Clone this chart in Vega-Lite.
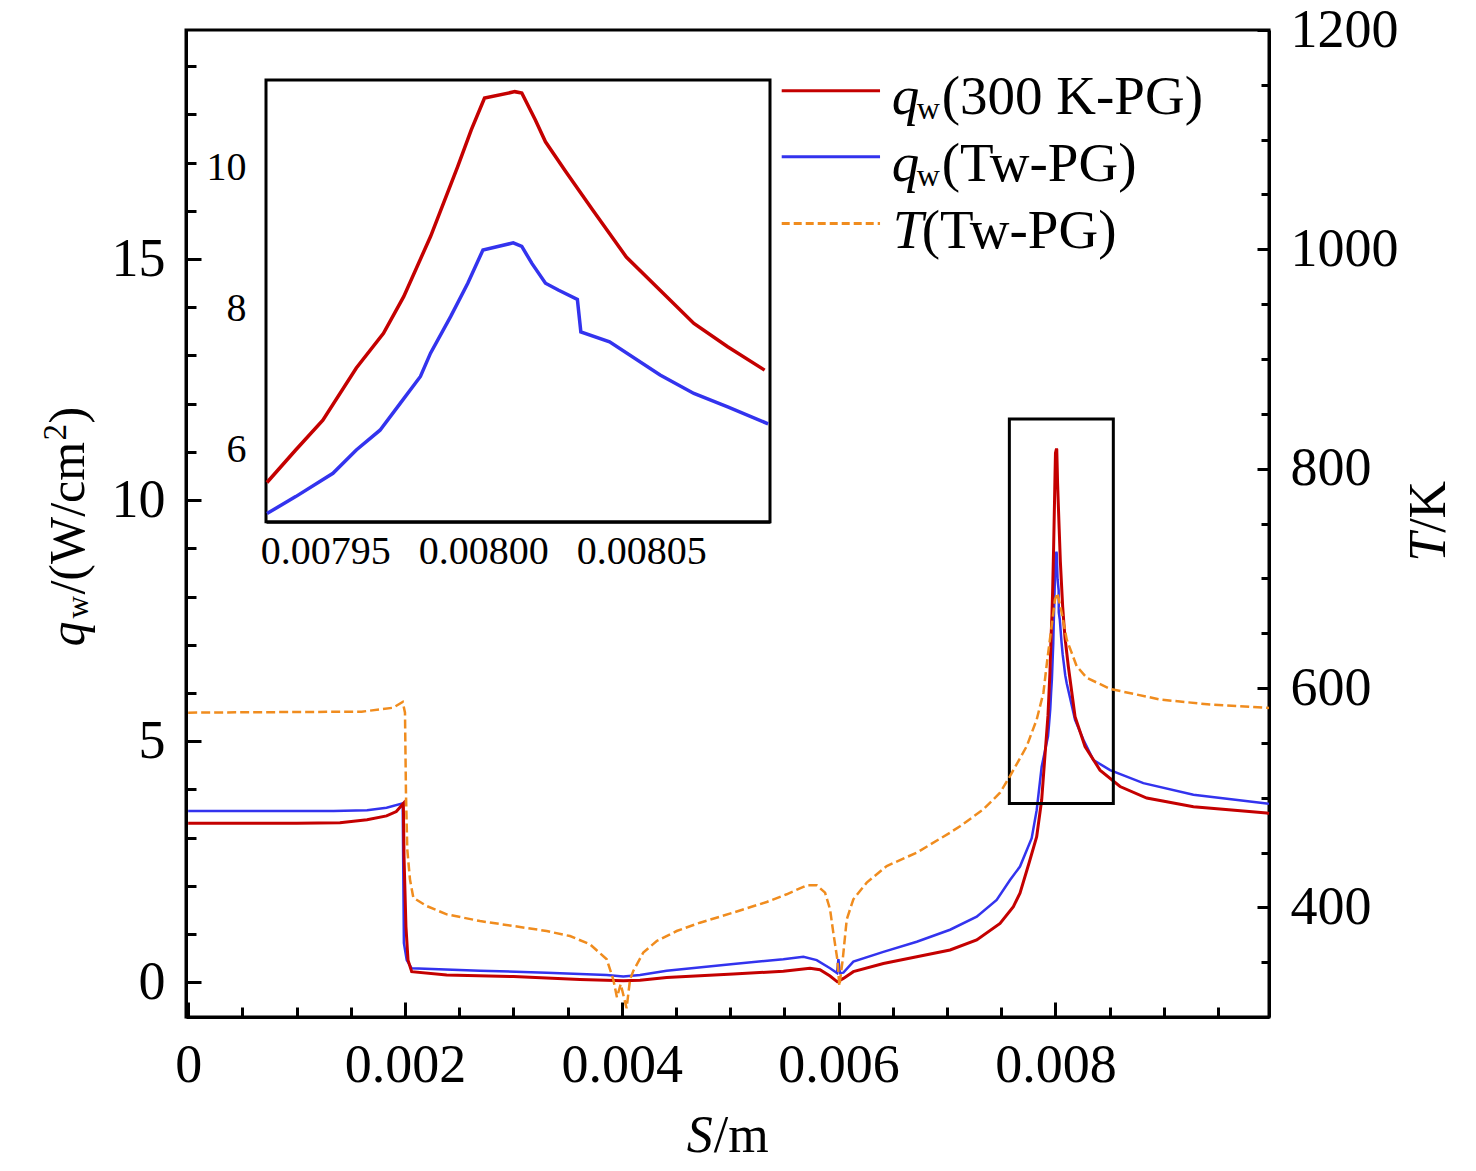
{
  "$schema": "https://vega.github.io/schema/vega-lite/v6.json",
  "width": 1083,
  "height": 987,
  "autosize": {"type": "none"},
  "padding": {"left": 186, "top": 30, "right": 207, "bottom": 154},
  "background": "white",
  "config": {
    "view": {"stroke": "black", "strokeWidth": 3},
    "axis": {
      "grid": false, "domainColor": "black", "domainWidth": 3, "tickColor": "black", "tickWidth": 3,
      "labelColor": "black", "labelFont": "Liberation Serif", "labelFontSize": 54,
      "labelFlush": false, "labelOverlap": false, "labelBound": false, "zindex": 1
    },
    "text": {"font": "Liberation Serif", "color": "black"}
  },
  "datasets": {
    "red": [
      {"s": 0, "q": 3.30}, {"s": 0.0005, "q": 3.30}, {"s": 0.001, "q": 3.30}, {"s": 0.0014, "q": 3.31},
      {"s": 0.00165, "q": 3.37}, {"s": 0.00183, "q": 3.45}, {"s": 0.00192, "q": 3.54}, {"s": 0.001985, "q": 3.71},
      {"s": 0.001991, "q": 2.61}, {"s": 0.002009, "q": 1.15}, {"s": 0.002028, "q": 0.46}, {"s": 0.002062, "q": 0.22},
      {"s": 0.002385, "q": 0.15}, {"s": 0.003, "q": 0.12}, {"s": 0.003614, "q": 0.06}, {"s": 0.004014, "q": 0.03},
      {"s": 0.004168, "q": 0.04}, {"s": 0.004414, "q": 0.10}, {"s": 0.005029, "q": 0.17}, {"s": 0.00549, "q": 0.23},
      {"s": 0.005736, "q": 0.29}, {"s": 0.005828, "q": 0.26}, {"s": 0.005921, "q": 0.13}, {"s": 0.005988, "q": 0.01},
      {"s": 0.006044, "q": 0.08}, {"s": 0.006136, "q": 0.22}, {"s": 0.006413, "q": 0.39}, {"s": 0.006721, "q": 0.53},
      {"s": 0.007028, "q": 0.67}, {"s": 0.007274, "q": 0.88}, {"s": 0.007489, "q": 1.22}, {"s": 0.007612, "q": 1.57},
      {"s": 0.007673, "q": 1.85}, {"s": 0.00776, "q": 2.5}, {"s": 0.007827, "q": 3.02}, {"s": 0.007873, "q": 3.78},
      {"s": 0.0079, "q": 4.6},
      {"s": 0.0079315, "q": 5.54}, {"s": 0.0079406, "q": 6.0}, {"s": 0.0079492, "q": 6.42}, {"s": 0.0079598, "q": 7.16},
      {"s": 0.0079684, "q": 7.65}, {"s": 0.0079748, "q": 8.17}, {"s": 0.0079833, "q": 9.02}, {"s": 0.0079919, "q": 10.01},
      {"s": 0.0079962, "q": 10.53}, {"s": 0.0080004, "q": 10.98}, {"s": 0.00801, "q": 11.07}, {"s": 0.0080122, "q": 11.05},
      {"s": 0.0080165, "q": 10.67}, {"s": 0.0080197, "q": 10.36}, {"s": 0.0080261, "q": 9.94}, {"s": 0.0080346, "q": 9.40},
      {"s": 0.0080453, "q": 8.73}, {"s": 0.008056, "q": 8.26}, {"s": 0.0080667, "q": 7.79}, {"s": 0.0080774, "q": 7.46},
      {"s": 0.0080891, "q": 7.13},
      {"s": 0.008119, "q": 6.55}, {"s": 0.008181, "q": 5.51}, {"s": 0.008273, "q": 4.89}, {"s": 0.008411, "q": 4.40},
      {"s": 0.008596, "q": 4.06}, {"s": 0.008842, "q": 3.82}, {"s": 0.009273, "q": 3.64}, {"s": 0.009949, "q": 3.51},
      {"s": 0.00997, "q": 3.50}
    ],
    "blue": [
      {"s": 0, "q": 3.55}, {"s": 0.0005, "q": 3.55}, {"s": 0.001, "q": 3.55}, {"s": 0.00134, "q": 3.55},
      {"s": 0.00165, "q": 3.57}, {"s": 0.00183, "q": 3.62}, {"s": 0.001979, "q": 3.71}, {"s": 0.00199, "q": 0.81},
      {"s": 0.002016, "q": 0.46}, {"s": 0.002062, "q": 0.29}, {"s": 0.002692, "q": 0.24}, {"s": 0.003307, "q": 0.20},
      {"s": 0.003861, "q": 0.15}, {"s": 0.004014, "q": 0.12}, {"s": 0.004168, "q": 0.15}, {"s": 0.004414, "q": 0.24},
      {"s": 0.005029, "q": 0.38}, {"s": 0.00549, "q": 0.48}, {"s": 0.005675, "q": 0.53}, {"s": 0.005798, "q": 0.46},
      {"s": 0.005921, "q": 0.29}, {"s": 0.005985, "q": 0.19}, {"s": 0.005998, "q": 0.48}, {"s": 0.006012, "q": 0.19},
      {"s": 0.006044, "q": 0.20}, {"s": 0.006136, "q": 0.43}, {"s": 0.006413, "q": 0.63}, {"s": 0.006721, "q": 0.84},
      {"s": 0.007028, "q": 1.09}, {"s": 0.007274, "q": 1.36}, {"s": 0.007458, "q": 1.71}, {"s": 0.007581, "q": 2.12},
      {"s": 0.007673, "q": 2.40}, {"s": 0.007781, "q": 2.99}, {"s": 0.007827, "q": 3.57}, {"s": 0.007873, "q": 4.47},
      {"s": 0.0079315, "q": 5.10}, {"s": 0.0079406, "q": 5.34}, {"s": 0.0079524, "q": 5.67}, {"s": 0.0079598, "q": 6.0},
      {"s": 0.0079673, "q": 6.28}, {"s": 0.0079737, "q": 6.66}, {"s": 0.0079801, "q": 7.04}, {"s": 0.0079833, "q": 7.37},
      {"s": 0.0079897, "q": 7.89}, {"s": 0.0079951, "q": 8.36}, {"s": 0.0079999, "q": 8.83}, {"s": 0.0080095, "q": 8.93},
      {"s": 0.0080122, "q": 8.88}, {"s": 0.0080154, "q": 8.64}, {"s": 0.0080197, "q": 8.36}, {"s": 0.0080239, "q": 8.26},
      {"s": 0.0080298, "q": 8.13}, {"s": 0.0080309, "q": 7.67}, {"s": 0.00804, "q": 7.53}, {"s": 0.008056, "q": 7.06},
      {"s": 0.0080667, "q": 6.80}, {"s": 0.0080774, "q": 6.61}, {"s": 0.0080902, "q": 6.37},
      {"s": 0.008104, "q": 6.20}, {"s": 0.008181, "q": 5.44}, {"s": 0.008258, "q": 5.03}, {"s": 0.00835, "q": 4.61},
      {"s": 0.008504, "q": 4.40}, {"s": 0.008811, "q": 4.13}, {"s": 0.009273, "q": 3.89}, {"s": 0.009949, "q": 3.71},
      {"s": 0.00997, "q": 3.70}
    ],
    "orange": [
      {"s": 0, "T": 577.5}, {"s": 0.0008, "T": 578}, {"s": 0.0016, "T": 578.4}, {"s": 0.00177, "T": 580.5},
      {"s": 0.00189, "T": 582}, {"s": 0.001979, "T": 587.2}, {"s": 0.002, "T": 577.5}, {"s": 0.002009, "T": 504.6},
      {"s": 0.002021, "T": 452.9}, {"s": 0.002046, "T": 425.5}, {"s": 0.002077, "T": 408.8}, {"s": 0.0022, "T": 401.2},
      {"s": 0.002385, "T": 393.6}, {"s": 0.002692, "T": 387.5}, {"s": 0.003, "T": 383}, {"s": 0.003307, "T": 378.4},
      {"s": 0.003522, "T": 373.8}, {"s": 0.003707, "T": 366.3}, {"s": 0.003861, "T": 352.6}, {"s": 0.003922, "T": 334},
      {"s": 0.003955, "T": 318}, {"s": 0.00399, "T": 330}, {"s": 0.004044, "T": 308}, {"s": 0.004076, "T": 334},
      {"s": 0.004106, "T": 342}, {"s": 0.004198, "T": 358.7}, {"s": 0.004322, "T": 369.3}, {"s": 0.004506, "T": 378.4},
      {"s": 0.004721, "T": 386}, {"s": 0.005029, "T": 395.2}, {"s": 0.005337, "T": 404.9}, {"s": 0.005521, "T": 411.9},
      {"s": 0.005706, "T": 420.1}, {"s": 0.005798, "T": 420.1}, {"s": 0.005875, "T": 413.4}, {"s": 0.005921, "T": 398.2},
      {"s": 0.005951, "T": 376.9}, {"s": 0.005988, "T": 352.6}, {"s": 0.006007, "T": 328.3}, {"s": 0.006038, "T": 352.6},
      {"s": 0.006075, "T": 389}, {"s": 0.006136, "T": 407.3}, {"s": 0.006259, "T": 422.5}, {"s": 0.006444, "T": 437.7},
      {"s": 0.006721, "T": 449.9}, {"s": 0.007028, "T": 468.1}, {"s": 0.00712, "T": 474}, {"s": 0.007335, "T": 489.3},
      {"s": 0.007489, "T": 504.5}, {"s": 0.007581, "T": 519.6}, {"s": 0.007735, "T": 546.9}, {"s": 0.007827, "T": 571.2},
      {"s": 0.007889, "T": 595.5}, {"s": 0.007925, "T": 625.9}, {"s": 0.007957, "T": 650.3}, {"s": 0.007996, "T": 680.6},
      {"s": 0.008018, "T": 686.7}, {"s": 0.008058, "T": 668.5}, {"s": 0.008104, "T": 644.2}, {"s": 0.008196, "T": 619.9},
      {"s": 0.008289, "T": 609.3}, {"s": 0.008504, "T": 599.2}, {"s": 0.008965, "T": 589.5}, {"s": 0.009426, "T": 584.9},
      {"s": 0.009949, "T": 581.9}, {"s": 0.00997, "T": 581.8}
    ]
  },
  "layer": [
    {
      "resolve": {"axis": {"x": "independent", "y": "independent"}},
      "layer": [
        {
          "data": {"name": "blue"},
          "mark": {"type": "line", "color": "#3333ee", "strokeWidth": 2.5},
          "encoding": {
            "x": {"field": "s", "type": "quantitative", "scale": {"domain": [-0.00002, 0.00997], "nice": false, "zero": false},
                  "axis": {"orient": "bottom", "values": [0.0005, 0.001, 0.0015, 0.0025, 0.003, 0.0035, 0.0045, 0.005, 0.0055, 0.0065, 0.007, 0.0075, 0.0085, 0.009, 0.0095], "tickSize": -10, "labels": false, "domain": false, "title": null}},
            "y": {"field": "q", "type": "quantitative", "scale": {"domain": [-0.72, 19.75], "nice": false, "zero": false},
                  "axis": {"orient": "left", "values": [1, 2, 3, 4, 6, 7, 8, 9, 11, 12, 13, 14, 16, 17, 18, 19], "tickSize": -10, "labels": false, "domain": false, "title": null}}
          }
        },
        {
          "data": {"name": "red"},
          "mark": {"type": "line", "color": "#c40000", "strokeWidth": 3},
          "encoding": {
            "x": {"field": "s", "type": "quantitative", "scale": {"domain": [-0.00002, 0.00997], "nice": false, "zero": false},
                  "axis": {"orient": "bottom", "values": [0, 0.002, 0.004, 0.006, 0.008], "format": ".3~f", "tickSize": -15, "labelPadding": 79.7, "labelBaseline": "alphabetic", "title": null}},
            "y": {"field": "q", "type": "quantitative", "scale": {"domain": [-0.72, 19.75], "nice": false, "zero": false},
                  "axis": {"orient": "left", "values": [0, 5, 10, 15], "format": "d", "tickSize": -15, "labelPadding": 36, "title": null}}
          }
        },
        {
          "data": {"values": [{}]},
          "mark": {"type": "rect", "fillOpacity": 0, "stroke": "black", "strokeWidth": 3},
          "encoding": {
            "x": {"datum": 0.007575, "type": "quantitative", "scale": {"domain": [-0.00002, 0.00997], "nice": false, "zero": false}, "axis": null},
            "x2": {"datum": 0.008534},
            "y": {"datum": 11.68, "type": "quantitative", "scale": {"domain": [-0.72, 19.75], "nice": false, "zero": false}, "axis": null},
            "y2": {"datum": 3.71}
          }
        },
        {
          "data": {"values": [{}]},
          "mark": {"type": "rule", "color": "#c40000", "strokeWidth": 3},
          "encoding": {
            "x": {"datum": 0.005475, "type": "quantitative", "scale": {"domain": [-0.00002, 0.00997], "nice": false, "zero": false}, "axis": null},
            "x2": {"datum": 0.006382},
            "y": {"datum": 18.49, "type": "quantitative", "scale": {"domain": [-0.72, 19.75], "nice": false, "zero": false}, "axis": null}
          }
        },
        {
          "data": {"values": [{}]},
          "mark": {"type": "rule", "color": "#3333ee", "strokeWidth": 3},
          "encoding": {
            "x": {"datum": 0.005475, "type": "quantitative", "scale": {"domain": [-0.00002, 0.00997], "nice": false, "zero": false}, "axis": null},
            "x2": {"datum": 0.006382},
            "y": {"datum": 17.12, "type": "quantitative", "scale": {"domain": [-0.72, 19.75], "nice": false, "zero": false}, "axis": null}
          }
        },
        {
          "data": {"values": [{}]},
          "mark": {"type": "text", "text": "q", "fontSize": 55, "fontStyle": "italic", "align": "left", "baseline": "alphabetic"},
          "encoding": {
            "x": {"datum": 0.00649, "type": "quantitative", "scale": {"domain": [-0.00002, 0.00997], "nice": false, "zero": false}, "axis": null},
            "y": {"datum": 18.0, "type": "quantitative", "scale": {"domain": [-0.72, 19.75], "nice": false, "zero": false}, "axis": null}
          }
        },
        {
          "data": {"values": [{}]},
          "mark": {"type": "text", "text": "w", "fontSize": 32, "align": "left", "baseline": "alphabetic", "dx": 25, "dy": 5},
          "encoding": {
            "x": {"datum": 0.00649, "type": "quantitative", "scale": {"domain": [-0.00002, 0.00997], "nice": false, "zero": false}, "axis": null},
            "y": {"datum": 18.0, "type": "quantitative", "scale": {"domain": [-0.72, 19.75], "nice": false, "zero": false}, "axis": null}
          }
        },
        {
          "data": {"values": [{}]},
          "mark": {"type": "text", "text": "(300 K-PG)", "fontSize": 55, "align": "left", "baseline": "alphabetic", "dx": 50},
          "encoding": {
            "x": {"datum": 0.00649, "type": "quantitative", "scale": {"domain": [-0.00002, 0.00997], "nice": false, "zero": false}, "axis": null},
            "y": {"datum": 18.0, "type": "quantitative", "scale": {"domain": [-0.72, 19.75], "nice": false, "zero": false}, "axis": null}
          }
        },
        {
          "data": {"values": [{}]},
          "mark": {"type": "text", "text": "q", "fontSize": 55, "fontStyle": "italic", "align": "left", "baseline": "alphabetic"},
          "encoding": {
            "x": {"datum": 0.00649, "type": "quantitative", "scale": {"domain": [-0.00002, 0.00997], "nice": false, "zero": false}, "axis": null},
            "y": {"datum": 16.61, "type": "quantitative", "scale": {"domain": [-0.72, 19.75], "nice": false, "zero": false}, "axis": null}
          }
        },
        {
          "data": {"values": [{}]},
          "mark": {"type": "text", "text": "w", "fontSize": 32, "align": "left", "baseline": "alphabetic", "dx": 25, "dy": 5},
          "encoding": {
            "x": {"datum": 0.00649, "type": "quantitative", "scale": {"domain": [-0.00002, 0.00997], "nice": false, "zero": false}, "axis": null},
            "y": {"datum": 16.61, "type": "quantitative", "scale": {"domain": [-0.72, 19.75], "nice": false, "zero": false}, "axis": null}
          }
        },
        {
          "data": {"values": [{}]},
          "mark": {"type": "text", "text": "(Tw-PG)", "fontSize": 55, "align": "left", "baseline": "alphabetic", "dx": 50},
          "encoding": {
            "x": {"datum": 0.00649, "type": "quantitative", "scale": {"domain": [-0.00002, 0.00997], "nice": false, "zero": false}, "axis": null},
            "y": {"datum": 16.61, "type": "quantitative", "scale": {"domain": [-0.72, 19.75], "nice": false, "zero": false}, "axis": null}
          }
        },
        {
          "data": {"values": [{}]},
          "mark": {"type": "text", "text": "T", "fontSize": 55, "fontStyle": "italic", "align": "left", "baseline": "alphabetic", "dx": 1},
          "encoding": {
            "x": {"datum": 0.00649, "type": "quantitative", "scale": {"domain": [-0.00002, 0.00997], "nice": false, "zero": false}, "axis": null},
            "y": {"datum": 15.23, "type": "quantitative", "scale": {"domain": [-0.72, 19.75], "nice": false, "zero": false}, "axis": null}
          }
        },
        {
          "data": {"values": [{}]},
          "mark": {"type": "text", "text": "(Tw-PG)", "fontSize": 55, "align": "left", "baseline": "alphabetic", "dx": 30},
          "encoding": {
            "x": {"datum": 0.00649, "type": "quantitative", "scale": {"domain": [-0.00002, 0.00997], "nice": false, "zero": false}, "axis": null},
            "y": {"datum": 15.23, "type": "quantitative", "scale": {"domain": [-0.72, 19.75], "nice": false, "zero": false}, "axis": null}
          }
        },
        {
          "data": {"values": [{}]},
          "mark": {"type": "text", "text": "S", "fontSize": 52, "fontStyle": "italic", "align": "left", "baseline": "alphabetic"},
          "encoding": {
            "x": {"datum": 0.004599, "type": "quantitative", "scale": {"domain": [-0.00002, 0.00997], "nice": false, "zero": false}, "axis": null},
            "y": {"datum": -3.515, "type": "quantitative", "scale": {"domain": [-0.72, 19.75], "nice": false, "zero": false}, "axis": null}
          }
        },
        {
          "data": {"values": [{}]},
          "mark": {"type": "text", "text": "/m", "fontSize": 52, "align": "left", "baseline": "alphabetic", "dx": 27},
          "encoding": {
            "x": {"datum": 0.004599, "type": "quantitative", "scale": {"domain": [-0.00002, 0.00997], "nice": false, "zero": false}, "axis": null},
            "y": {"datum": -3.515, "type": "quantitative", "scale": {"domain": [-0.72, 19.75], "nice": false, "zero": false}, "axis": null}
          }
        },
        {
          "data": {"values": [{}]},
          "mark": {"type": "text", "text": "T", "fontSize": 52, "fontStyle": "italic", "align": "left", "baseline": "alphabetic", "angle": 270},
          "encoding": {
            "x": {"datum": 0.011594, "type": "quantitative", "scale": {"domain": [-0.00002, 0.00997], "nice": false, "zero": false}, "axis": null},
            "y": {"datum": 8.72, "type": "quantitative", "scale": {"domain": [-0.72, 19.75], "nice": false, "zero": false}, "axis": null}
          }
        },
        {
          "data": {"values": [{}]},
          "mark": {"type": "text", "text": "/K", "fontSize": 52, "align": "left", "baseline": "alphabetic", "angle": 270, "dx": 29},
          "encoding": {
            "x": {"datum": 0.011594, "type": "quantitative", "scale": {"domain": [-0.00002, 0.00997], "nice": false, "zero": false}, "axis": null},
            "y": {"datum": 8.72, "type": "quantitative", "scale": {"domain": [-0.72, 19.75], "nice": false, "zero": false}, "axis": null}
          }
        },
        {
          "data": {"values": [{}]},
          "mark": {"type": "text", "text": "q", "fontSize": 50, "fontStyle": "italic", "align": "left", "baseline": "alphabetic", "angle": 270},
          "encoding": {
            "x": {"datum": -0.000961, "type": "quantitative", "scale": {"domain": [-0.00002, 0.00997], "nice": false, "zero": false}, "axis": null},
            "y": {"datum": 6.963, "type": "quantitative", "scale": {"domain": [-0.72, 19.75], "nice": false, "zero": false}, "axis": null}
          }
        },
        {
          "data": {"values": [{}]},
          "mark": {"type": "text", "text": "w", "fontSize": 31, "align": "left", "baseline": "alphabetic", "angle": 270, "dx": 28, "dy": 4},
          "encoding": {
            "x": {"datum": -0.000961, "type": "quantitative", "scale": {"domain": [-0.00002, 0.00997], "nice": false, "zero": false}, "axis": null},
            "y": {"datum": 6.963, "type": "quantitative", "scale": {"domain": [-0.72, 19.75], "nice": false, "zero": false}, "axis": null}
          }
        },
        {
          "data": {"values": [{}]},
          "mark": {"type": "text", "text": "/(W/cm", "fontSize": 50, "align": "left", "baseline": "alphabetic", "angle": 270, "dx": 52},
          "encoding": {
            "x": {"datum": -0.000961, "type": "quantitative", "scale": {"domain": [-0.00002, 0.00997], "nice": false, "zero": false}, "axis": null},
            "y": {"datum": 6.963, "type": "quantitative", "scale": {"domain": [-0.72, 19.75], "nice": false, "zero": false}, "axis": null}
          }
        },
        {
          "data": {"values": [{}]},
          "mark": {"type": "text", "text": "2", "fontSize": 33, "align": "left", "baseline": "alphabetic", "angle": 270, "dx": 206, "dy": -18},
          "encoding": {
            "x": {"datum": -0.000961, "type": "quantitative", "scale": {"domain": [-0.00002, 0.00997], "nice": false, "zero": false}, "axis": null},
            "y": {"datum": 6.963, "type": "quantitative", "scale": {"domain": [-0.72, 19.75], "nice": false, "zero": false}, "axis": null}
          }
        },
        {
          "data": {"values": [{}]},
          "mark": {"type": "text", "text": ")", "fontSize": 50, "align": "left", "baseline": "alphabetic", "angle": 270, "dx": 223},
          "encoding": {
            "x": {"datum": -0.000961, "type": "quantitative", "scale": {"domain": [-0.00002, 0.00997], "nice": false, "zero": false}, "axis": null},
            "y": {"datum": 6.963, "type": "quantitative", "scale": {"domain": [-0.72, 19.75], "nice": false, "zero": false}, "axis": null}
          }
        }
      ]
    },
    {
      "resolve": {"axis": {"x": "independent", "y": "independent"}},
      "layer": [
        {
          "data": {"name": "orange"},
          "mark": {"type": "line", "color": "#f08c1e", "strokeWidth": 2.5, "strokeDash": [9, 4]},
          "encoding": {
            "x": {"field": "s", "type": "quantitative", "scale": {"domain": [-0.00002, 0.00997], "nice": false, "zero": false}, "axis": null},
            "y": {"field": "T", "type": "quantitative", "scale": {"domain": [300, 1200], "nice": false, "zero": false},
                  "axis": {"orient": "right", "values": [400, 600, 800, 1000, 1200], "format": "d", "tickSize": -12, "labelPadding": 33, "title": null}}
          }
        },
        {
          "data": {"values": [{}]},
          "mark": {"type": "rule", "color": "#f08c1e", "strokeWidth": 3, "strokeDash": [8, 4]},
          "encoding": {
            "x": {"datum": 0.005475, "type": "quantitative", "scale": {"domain": [-0.00002, 0.00997], "nice": false, "zero": false}, "axis": null},
            "x2": {"datum": 0.006382},
            "y": {"datum": 1023.5, "type": "quantitative", "scale": {"domain": [300, 1200], "nice": false, "zero": false},
                  "axis": {"orient": "right", "values": [350, 450, 500, 550, 650, 700, 750, 850, 900, 950, 1050, 1100, 1150], "tickSize": -8, "labels": false, "domain": false, "title": null}}
          }
        }
      ]
    },
    {
      "resolve": {"axis": {"x": "independent", "y": "independent"}},
      "layer": [
        {
          "data": {"values": [{}]},
          "mark": {"type": "rect", "fill": "white", "stroke": "black", "strokeWidth": 3},
          "encoding": {
            "x": {"datum": 0.0079312, "type": "quantitative", "scale": {"domain": [0.0079312, 0.0080908], "range": [80, 584], "nice": false, "zero": false},
                  "axis": {"orient": "bottom", "offset": -495.3, "values": [0.00795, 0.008, 0.00805], "format": ".5f", "tickSize": -15, "labelPadding": 56.3, "labelBaseline": "alphabetic", "labelFontSize": 40, "title": null}},
            "x2": {"datum": 0.0080908},
            "y": {"datum": 4.985, "type": "quantitative", "scale": {"domain": [4.985, 11.235], "range": [491.7, 50], "nice": false, "zero": false},
                  "axis": {"orient": "left", "offset": -80, "values": [6, 8, 10], "format": "d", "tickSize": -16, "labelPadding": 36, "labelFontSize": 40, "title": null}},
            "y2": {"datum": 11.235}
          }
        },
        {
          "data": {"name": "red"},
          "transform": [{"filter": {"field": "s", "range": [0.00793, 0.0080906]}}],
          "mark": {"type": "line", "color": "#c40000", "strokeWidth": 3.5},
          "encoding": {
            "x": {"field": "s", "type": "quantitative", "scale": {"domain": [0.0079312, 0.0080908], "range": [80, 584], "nice": false, "zero": false},
                  "axis": {"orient": "bottom", "offset": -495.3, "values": [0.00794, 0.00796, 0.00797, 0.00798, 0.00799, 0.00801, 0.00802, 0.00803, 0.00804, 0.00806, 0.00807, 0.00808, 0.00809], "tickSize": -8, "labels": false, "domain": false, "title": null}},
            "y": {"field": "q", "type": "quantitative", "scale": {"domain": [4.985, 11.235], "range": [491.7, 50], "nice": false, "zero": false},
                  "axis": {"orient": "left", "offset": -80, "values": [5.5, 6.5, 7, 7.5, 8.5, 9, 9.5, 10.5, 11], "tickSize": -10, "labels": false, "domain": false, "title": null}}
          }
        },
        {
          "data": {"name": "blue"},
          "transform": [{"filter": {"field": "s", "range": [0.00793, 0.0080906]}}],
          "mark": {"type": "line", "color": "#3333ee", "strokeWidth": 3.5},
          "encoding": {
            "x": {"field": "s", "type": "quantitative", "scale": {"domain": [0.0079312, 0.0080908], "range": [80, 584], "nice": false, "zero": false}, "axis": null},
            "y": {"field": "q", "type": "quantitative", "scale": {"domain": [4.985, 11.235], "range": [491.7, 50], "nice": false, "zero": false}, "axis": null}
          }
        }
      ]
    }
  ],
  "resolve": {"scale": {"x": "independent", "y": "independent"}}
}
